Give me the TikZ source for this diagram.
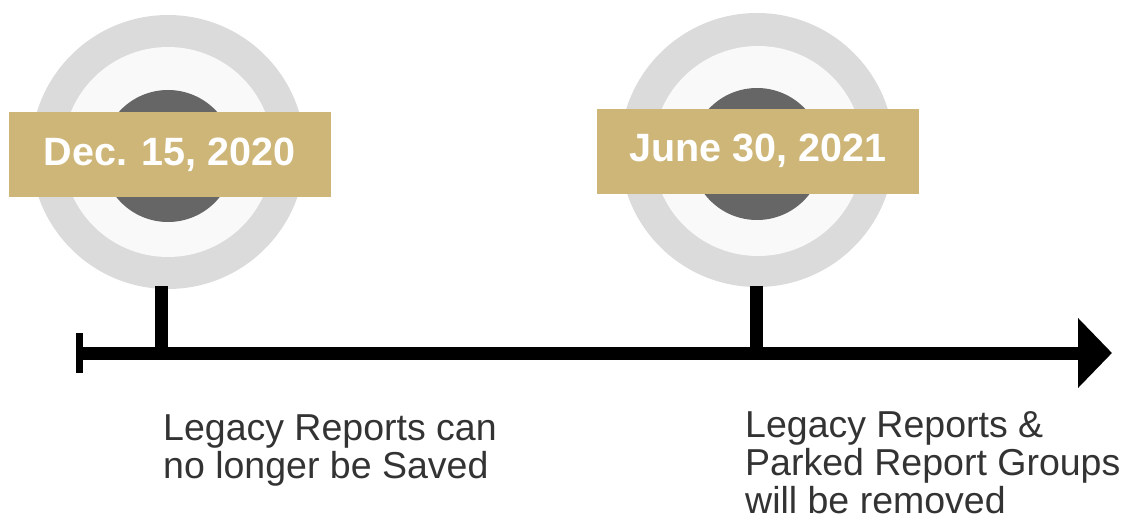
\documentclass[tikz,border=0pt]{standalone}
\usepackage{fontspec}
\setmainfont{Liberation Sans}
\usetikzlibrary{arrows.meta}
\definecolor{ringgray}{HTML}{DBDBDB}
\definecolor{innerwhite}{HTML}{F9F9F9}
\definecolor{coregray}{HTML}{666666}
\definecolor{gold}{HTML}{CEB679}
\begin{document}
\begin{tikzpicture}[x=1pt,y=-1pt,
  outerring/.style={circle,fill=ringgray,minimum size=274pt,inner sep=0pt},
  innerdisc/.style={circle,fill=innerwhite,minimum size=210pt,inner sep=0pt},
  coredisc/.style={circle,fill=coregray,minimum size=132pt,inner sep=0pt},
  datebox/.style={fill=gold,text=white,minimum width=322pt,minimum height=85pt,inner sep=0pt,
    font=\bfseries\fontsize{39.5}{40}\selectfont},
  axisline/.style={line width=13pt},
  stemline/.style={line width=13pt},
  note/.style={anchor=base west,align=left,inner sep=0pt,text=black!80,
    font=\fontsize{37.5}{38}\selectfont}]
\useasboundingbox (0,0) rectangle (1125,519);
% first milestone
\node[outerring] (o1) at (168,152) {};
\node[innerdisc] (i1) at (168,152) {};
\node[coredisc] (c1) at (168,156) {};
\node[datebox] (d1) at (169.5,154.5) {Dec. 15, 2020};
% second milestone
\node[outerring] (o2) at (757,150) {};
\node[innerdisc] (i2) at (758,151) {};
\node[coredisc] (c2) at (757,154) {};
\node[datebox] (d2) at (758,151) {June 30, 2021};
% axis
\coordinate (start) at (79,353);
\coordinate (tip) at (1112,353);
\coordinate (tickTop) at (79,333);
\coordinate (tickBot) at (79,373);
\draw[line width=7pt] (tickTop) -- (tickBot);
\draw[axisline,-{Triangle[length=34pt,width=68pt]}] (start) -- (tip);
% stems
\coordinate (s1top) at (161,286);
\coordinate (s1bot) at (161,353);
\coordinate (s2top) at (756,286);
\coordinate (s2bot) at (756,353);
\draw[stemline] (s1top) -- (s1bot);
\draw[stemline] (s2top) -- (s2bot);
% notes
\node[note] (n1) at (163,478) {Legacy Reports can\\no longer be Saved};
\node[note] (n2) at (745,513) {Legacy Reports \&\\Parked Report Groups\\will be removed};
\end{tikzpicture}
\end{document}
